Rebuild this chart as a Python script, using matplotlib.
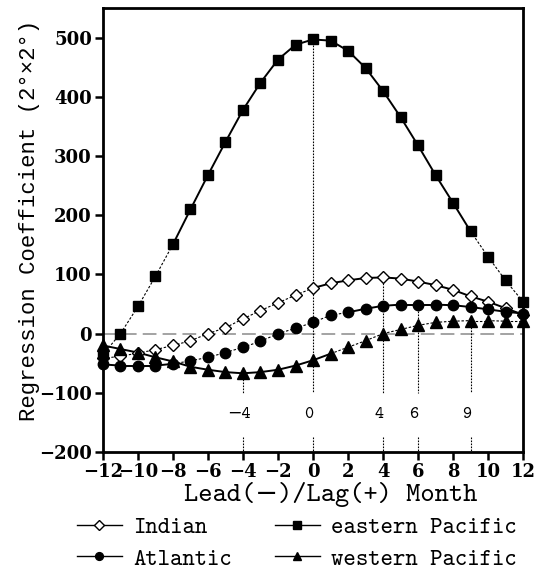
#!/usr/bin/env python3
"""Lead/lag regression coefficients of four ocean basins."""
import matplotlib
matplotlib.use("Agg")
import matplotlib.pyplot as plt
import numpy as np
from matplotlib.lines import Line2D

MONTHS = list(range(-12, 13))

EASTERN_PACIFIC = [-35, 0, 46, 97, 151, 210, 268, 324, 378, 424, 463, 488, 497,
                   495, 478, 449, 410, 366, 318, 268, 221, 173, 130, 90, 54]
INDIAN = [-42, -38, -33, -27, -20, -12, 0, 10, 25, 39, 52, 65, 77,
          85, 90, 94, 95, 93, 88, 82, 74, 63, 54, 43, 32]
ATLANTIC = [-52, -54, -54, -54, -51, -46, -40, -32, -23, -13, 0, 9, 19,
            31, 36, 42, 47, 49, 49, 49, 48, 45, 41, 37, 34]
WESTERN_PACIFIC = [-20, -26, -32, -40, -47, -56, -61, -65, -67, -65, -61, -54, -45,
                   -34, -23, -12, 0, 7, 14, 19, 21, 22, 22, 21, 21]

# segment starting at month k is solid inside these ranges, dotted elsewhere
SOLID_RANGES = {
    "eastern Pacific": [(-8, 9)],
    "Indian": [(0, 12)],
    "Atlantic": [(-12, -8), (2, 12)],
    "western Pacific": [(-12, 1)],
}

# vertical reference lines: month and the value where each line starts
REF_MONTHS = [-4, 0, 4, 6, 9]
REF_TOPS = [-67, 497, 95, 49, 22]

SERIES = [
    ("Indian", INDIAN, dict(marker="D", markersize=6.2, markerfacecolor="white",
                            markeredgecolor="black", markeredgewidth=1.0)),
    ("Atlantic", ATLANTIC, dict(marker="o", markersize=7.5, markerfacecolor="black",
                                markeredgecolor="black")),
    ("eastern Pacific", EASTERN_PACIFIC, dict(marker="s", markersize=7.5,
                                              markerfacecolor="black", markeredgecolor="black")),
    ("western Pacific", WESTERN_PACIFIC, dict(marker="^", markersize=8.5,
                                              markerfacecolor="black", markeredgecolor="black")),
]

MONO = ["cmtt10", "DejaVu Serif"]
# cmtt10 maps the degree sign to a quote glyph, so the y label uses a plain mono font
MONO_DEG = ["Liberation Mono", "DejaVu Sans Mono"]
SERIF = "DejaVu Serif"


def is_solid(name, k):
    return any(a <= k < b for a, b in SOLID_RANGES[name])


def draw_series(ax, name, values, mstyle):
    x = np.asarray(MONTHS, dtype=float)
    y = np.asarray(values, dtype=float)
    for i in range(len(x) - 1):
        if is_solid(name, MONTHS[i]):
            ax.plot(x[i:i+2], y[i:i+2], color="black", lw=1.4, solid_capstyle="round", zorder=3)
        else:
            ax.plot(x[i:i+2], y[i:i+2], color="black", lw=0.8, linestyle=(0, (2.2, 1.6)), zorder=3)
    ax.plot(x, y, linestyle="none", zorder=4, clip_on=False, **mstyle)


def main():
    fig = plt.figure(figsize=(5.35, 5.77), dpi=100)
    ax = fig.add_axes([0.1925, 0.2166, 0.7851, 0.7694])

    ax.axhline(0, color="#8a8a8a", lw=1.1, linestyle=(0, (9, 4)), zorder=1)

    for m, top in zip(REF_MONTHS, REF_TOPS):
        ax.plot([m, m], [top, -100], color="black", lw=0.8, linestyle=(0, (1.5, 1.2)), zorder=2)
        ax.plot([m, m], [-175, -200], color="black", lw=0.8, linestyle=(0, (1.5, 1.2)), zorder=2)
        lab = f"{m}".replace("-", "\u2212")
        ax.text(m - 0.25, -137, lab, ha="center", va="center", fontsize=12.5,
                family=MONO, zorder=5)

    for name, vals, ms in SERIES:
        draw_series(ax, name, vals, ms)

    ax.set_xlim(-12, 12)
    ax.set_ylim(-200, 550)
    ax.set_xticks(range(-12, 13, 2))
    ax.set_yticks(range(-200, 501, 100))
    ax.set_xticklabels([str(v).replace("-", "\u2212") for v in range(-12, 13, 2)])
    ax.set_yticklabels([str(v).replace("-", "\u2212") for v in range(-200, 501, 100)])
    ax.tick_params(direction="out", length=6, width=1.8, top=False, right=False,
                   labelsize=13, pad=2)
    for lab in ax.get_xticklabels() + ax.get_yticklabels():
        lab.set_family(SERIF)
        lab.set_fontweight("bold")
    for sp in ax.spines.values():
        sp.set_linewidth(2.0)

    ax.set_xlabel("Lead(\u2212)/Lag(+) Month", family=MONO, fontsize=19.5)
    ax.xaxis.set_label_coords(0.543, -0.068)
    ax.set_ylabel("Regression Coefficient (2\u00b0\u00d72\u00b0)", family=MONO_DEG, fontsize=16)
    ax.yaxis.set_label_coords(-0.15, 0.522)

    handles = [Line2D([], [], color="black", lw=1.0, label=name,
                      **{**ms, "markersize": ms["markersize"] * 0.75})
               for name, _, ms in SERIES]
    fig.legend(handles=handles, loc="lower center", ncol=2, frameon=False,
               bbox_to_anchor=(0.555, -0.026), prop={"family": MONO, "size": 17},
               handlelength=1.9, handletextpad=0.5, columnspacing=1.8, labelspacing=0.385)

    fig.savefig("out.png", dpi=100)


if __name__ == "__main__":
    main()
